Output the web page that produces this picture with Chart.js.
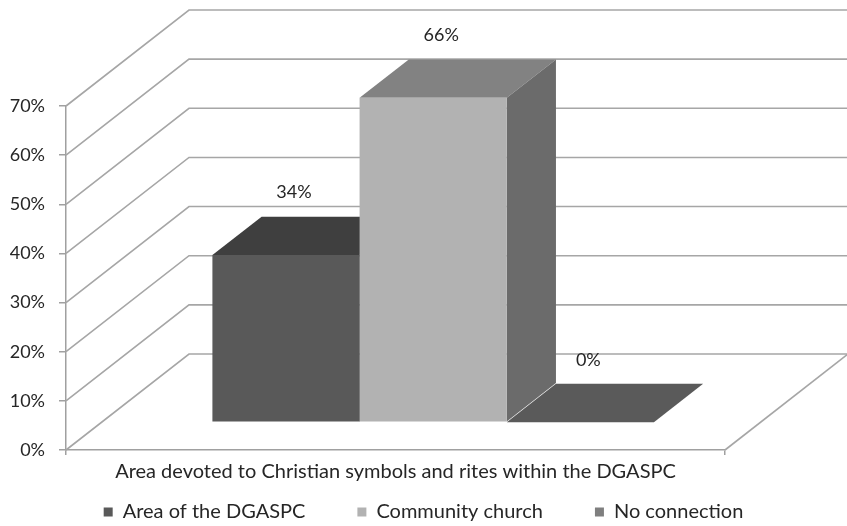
<!DOCTYPE html>
<html>
<head>
<meta charset="utf-8">
<script src="https://cdn.jsdelivr.net/npm/chart.js@4.4.0/dist/chart.umd.min.js"></script>
<style>
  html, body { margin: 0; padding: 0; background: #fff; }
  #wrap { width: 847px; height: 526px; position: relative; }
</style>
</head>
<body>
<div id="wrap"><canvas id="chart"></canvas></div>
<script>
const categories = ["Area devoted to Christian symbols and rites within the DGASPC"];
const seriesNames = ["Area of the DGASPC", "Community church", "No connection"];
const seriesValues = [[34], [66], [0]];
const yTicks = [0, 10, 20, 30, 40, 50, 60, 70];

// face colours for the fake 3d look
const frontColors = ['#595959', '#b2b2b2', '#7f7f7f'];
const topColors = ['#3f3f3f', '#828282', '#5a5a5a'];
const sideColors = ['#404040', '#6b6b6b', '#5a5a5a'];

const NUM_FONT = { family: 'Lato', size: 18 };
const TEXT_FONT = { family: 'Lato', size: 20 };
const DEPTH_X = 123, DEPTH_Y = -96;   // offset from front plane to back wall
const BAR_FRONT = 0.29, BAR_BACK = 0.69; // where the bars sit in depth
const LEGEND_PAD = 52;

const walls3d = {
    id: 'walls3d',
    afterLayout(chart) {
        // legend padding is used for the gaps between items, so move the row down by hand
        const lg = chart.legend;
        if (lg) lg.top = chart.height - 14 - TEXT_FONT.size / 2 - LEGEND_PAD;
    },
    beforeDatasetsDraw(chart) {
        const { ctx, chartArea } = chart;
        const y = chart.scales.y;
        ctx.save();
        ctx.strokeStyle = '#a6a6a6';
        ctx.lineWidth = 1.6;
        yTicks.forEach(v => {
            const py = y.getPixelForValue(v);
            ctx.beginPath();
            ctx.moveTo(chartArea.left, py);
            ctx.lineTo(chartArea.left + DEPTH_X, py + DEPTH_Y);
            ctx.lineTo(chartArea.right + DEPTH_X + 5, py + DEPTH_Y);
            ctx.stroke();
        });
        // right edge of the floor
        const py0 = y.getPixelForValue(0);
        ctx.beginPath();
        ctx.moveTo(chartArea.right, py0);
        ctx.lineTo(chartArea.right + DEPTH_X, py0 + DEPTH_Y);
        ctx.stroke();
        ctx.restore();

        // tops and sides, left to right, then the library draws the fronts
        ctx.save();
        ctx.translate(DEPTH_X * BAR_FRONT + 2, DEPTH_Y * BAR_FRONT);
        const dx = DEPTH_X * (BAR_BACK - BAR_FRONT);
        const dy = DEPTH_Y * (BAR_BACK - BAR_FRONT);
        chart.data.datasets.forEach((ds, i) => {
            chart.getDatasetMeta(i).data.forEach(bar => {
                const { x, y: top, base, width } = bar.getProps(['x', 'y', 'base', 'width'], true);
                const l = x - width / 2, r = x + width / 2;
                ctx.fillStyle = topColors[i];
                ctx.beginPath();
                ctx.moveTo(l, top);
                ctx.lineTo(l + dx, top + dy);
                ctx.lineTo(r + dx, top + dy);
                ctx.lineTo(r, top);
                ctx.closePath();
                ctx.fill();
                ctx.fillStyle = sideColors[i];
                ctx.beginPath();
                ctx.moveTo(r, top);
                ctx.lineTo(r + dx, top + dy);
                ctx.lineTo(r + dx, base + dy);
                ctx.lineTo(r, base);
                ctx.closePath();
                ctx.fill();
            });
        });
    },
    afterDatasetsDraw(chart) {
        const { ctx } = chart;
        ctx.restore();
        // value labels above each bar
        ctx.save();
        ctx.font = NUM_FONT.size + 'px "' + NUM_FONT.family + '"';
        ctx.fillStyle = '#262626';
        ctx.textAlign = 'center';
        ctx.textBaseline = 'middle';
        chart.data.datasets.forEach((ds, i) => {
            chart.getDatasetMeta(i).data.forEach((bar, j) => {
                const { x, y: top } = bar.getProps(['x', 'y'], true);
                const lx = x + DEPTH_X * BAR_FRONT + 10;
                const ly = top + DEPTH_Y * BAR_BACK - 24;
                ctx.fillText(ds.data[j] + '%', lx, ly);
            });
        });
        ctx.restore();
    }
};

new Chart(document.getElementById('chart'), {
    type: 'bar',
    data: {
        labels: categories,
        datasets: seriesNames.map((name, i) => ({
            label: name,
            data: seriesValues[i],
            backgroundColor: frontColors[i],
            borderWidth: 0,
            categoryPercentage: 0.67,
            barPercentage: 1.0
        }))
    },
    options: {
        responsive: true,
        maintainAspectRatio: false,
        animation: false,
        layout: { padding: { top: 106, right: 0, left: 0, bottom: 0 } },
        plugins: {
            tooltip: { enabled: false },
            legend: {
                position: 'bottom',
                maxHeight: 32,
                labels: {
                    font: TEXT_FONT,
                    color: '#262626',
                    boxWidth: 9,
                    boxHeight: 9,
                    padding: LEGEND_PAD
                }
            }
        },
        scales: {
            x: {
                offset: true,
                grid: { drawOnChartArea: false, drawTicks: true, tickLength: 5, color: '#a0a0a0', lineWidth: 1.5 },
                border: { display: true, color: '#a0a0a0', width: 1.5 },
                ticks: { font: TEXT_FONT, color: '#262626', padding: 5 },
                afterFit: scale => { scale.height = 44; }
            },
            y: {
                min: 0,
                max: 70,
                ticks: { stepSize: 10, font: NUM_FONT, color: '#262626', padding: 14, callback: v => v + '%' },
                grid: { drawOnChartArea: false, drawTicks: true, tickLength: 7, color: '#a0a0a0', lineWidth: 1.5 },
                border: { display: true, color: '#a0a0a0', width: 1.5 },
                afterFit: scale => { scale.width = 66; }
            },
            // empty axis on the right that leaves room for the depth of the walls
            depth: {
                type: 'linear',
                position: 'right',
                ticks: { display: false },
                grid: { display: false },
                border: { display: false },
                afterFit: scale => { scale.width = 122; }
            }
        }
    },
    plugins: [walls3d]
});
</script>
</body>
</html>
